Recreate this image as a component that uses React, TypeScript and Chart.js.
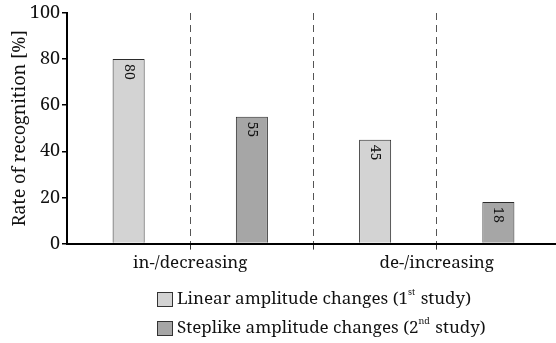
import React, { useEffect, useRef } from "react";
import { Chart, registerables } from "chart.js";

Chart.register(...registerables);

const categories = ["in-/decreasing", "de-/increasing"];
const linearValues = [80, 45];
const steplikeValues = [55, 18];
const seriesNames = [
  { main: "Linear amplitude changes (1", sup: "st", tail: " study)" },
  { main: "Steplike amplitude changes (2", sup: "nd", tail: " study)" },
];
const yTicks = [0, 20, 40, 60, 80, 100];

const FONT = "'Noto Serif', serif";
const LIGHT = "#d3d3d3";
const DARK = "#a6a6a6";
const EDGE = "#2b2b2b";

const barLabelPlugin = {
  id: "barLabels",
  afterDatasetsDraw(chart: any) {
    const ctx = chart.ctx;
    ctx.save();
    ctx.font = `14px ${FONT}`;
    ctx.fillStyle = "#111";
    chart.data.datasets.forEach((ds: any, di: number) => {
      const meta = chart.getDatasetMeta(di);
      meta.data.forEach((el: any, i: number) => {
        const v = ds.data[i];
        ctx.save();
        ctx.translate(el.x, el.y + 5);
        ctx.rotate(Math.PI / 2);
        ctx.textAlign = "left";
        ctx.textBaseline = "middle";
        ctx.fillText(String(v), 0, 0);
        ctx.restore();
      });
    });
    ctx.restore();
  },
};

const legendPlugin = {
  id: "customLegend",
  afterDraw(chart: any) {
    const ctx = chart.ctx;
    ctx.save();
    const colors = [LIGHT, DARK];
    const x0 = 157;
    const rowsY = [299.5, 328.5];
    seriesNames.forEach((s, i) => {
      const cy = rowsY[i];
      ctx.fillStyle = colors[i];
      ctx.fillRect(x0, cy - 7.5, 16, 15);
      ctx.strokeStyle = "#333";
      ctx.lineWidth = 1;
      ctx.strokeRect(x0 + 0.5, cy - 7.5 + 0.5, 15, 14);
      ctx.fillStyle = "#111";
      ctx.textBaseline = "middle";
      ctx.textAlign = "left";
      let x = x0 + 20;
      ctx.font = `17px ${FONT}`;
      ctx.fillText(s.main, x, cy);
      x += ctx.measureText(s.main).width;
      ctx.font = `9px ${FONT}`;
      ctx.fillText(s.sup, x, cy - 7);
      x += ctx.measureText(s.sup).width + 1;
      ctx.font = `17px ${FONT}`;
      ctx.fillText(s.tail, x, cy);
    });
    ctx.restore();
  },
};

export default function App() {
  const ref = useRef<HTMLCanvasElement | null>(null);

  useEffect(() => {
    document.body.style.margin = "0";
    const canvas = ref.current;
    if (!canvas) return;
    const chart = new Chart(canvas, {
      type: "bar",
      data: {
        labels: categories,
        datasets: [
          {
            label: "Linear amplitude changes (1st study)",
            data: linearValues,
            backgroundColor: LIGHT,
            borderColor: EDGE,
            borderWidth: 1,
            barPercentage: 0.26,
            categoryPercentage: 1,
          },
          {
            label: "Steplike amplitude changes (2nd study)",
            data: steplikeValues,
            backgroundColor: DARK,
            borderColor: EDGE,
            borderWidth: 1,
            barPercentage: 0.26,
            categoryPercentage: 1,
          },
        ],
      },
      options: {
        responsive: false,
        animation: false,
        devicePixelRatio: 1,
        layout: { padding: { top: 13, right: 0, left: 0, bottom: 67 } },
        plugins: {
          legend: { display: false },
          tooltip: { enabled: false },
        },
        scales: {
          x: {
            type: "category",
            display: false,
            offset: true,
          },
          x2: {
            type: "linear",
            position: "bottom",
            offset: false,
            min: -0.5,
            max: 1.5,
            ticks: {
              stepSize: 0.5,
              autoSkip: false,
              maxRotation: 0,
              padding: 3,
              color: "#111",
              font: { family: FONT, size: 17 },
              callback: (v: any) => {
                const n = Number(v);
                if (n === 0) return categories[0];
                if (n === 1) return categories[1];
                return "";
              },
            },
            grid: {
              display: true,
              offset: false,
              drawOnChartArea: true,
              drawTicks: true,
              tickLength: 6,
              lineWidth: 1,
              color: (c: any) => {
                const v = c.tick ? c.tick.value : null;
                return v === -0.5 || v === 1.5 ? "rgba(0,0,0,0)" : "#555";
              },
              tickColor: (c: any) => {
                const v = c.tick ? c.tick.value : null;
                return v === -0.5 || v === 1.5 ? "rgba(0,0,0,0)" : "#333";
              },
              tickBorderDash: [],
            } as any,
            border: { display: true, color: "#000", width: 2, dash: [7, 5] },
          },
          y: {
            min: 0,
            max: 100,
            afterBuildTicks: (scale: any) => {
              scale.ticks = yTicks.map((v) => ({ value: v }));
            },
            afterFit: (scale: any) => {
              scale.width = 67;
            },
            ticks: {
              padding: 2,
              color: "#111",
              font: { family: FONT, size: 18 },
            },
            grid: {
              display: true,
              drawOnChartArea: false,
              drawTicks: true,
              tickLength: 5,
              color: "#000",
              lineWidth: 1.5,
            },
            border: { display: true, color: "#000", width: 2 },
            title: {
              display: true,
              text: "Rate of recognition [%]",
              color: "#111",
              font: { family: FONT, size: 18 },
              padding: { top: 9, bottom: 0 },
            },
          },
        },
      } as any,
      plugins: [barLabelPlugin, legendPlugin],
    });
    return () => chart.destroy();
  }, []);

  return (
    <div style={{ width: 556, height: 343, overflow: "hidden", background: "#fff" }}>
      <canvas ref={ref} width={563} height={343} style={{ display: "block", width: 563, height: 343 }} />
    </div>
  );
}
